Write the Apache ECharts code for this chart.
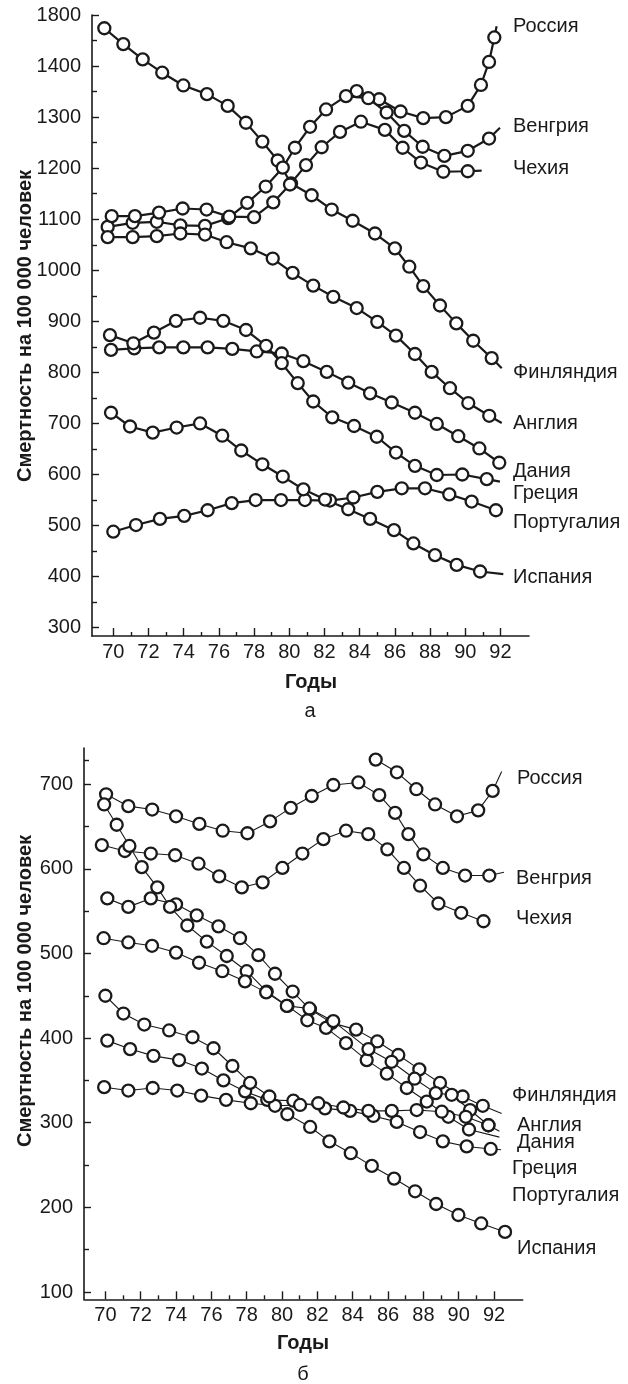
<!DOCTYPE html>
<html><head><meta charset="utf-8">
<script src="https://cdn.jsdelivr.net/npm/echarts@6/dist/echarts.min.js"></script>
<style>html,body{margin:0;padding:0;background:#fff}#c{width:628px;height:1384px}</style>
</head><body><div id="c"></div>
<script>
// ---------- tick values ----------
const xMajorTicks = [70,72,74,76,78,80,82,84,86,88,90,92];
const xMinorTicks = [71,73,75,77,79,81,83,85,87,89,91];
const yTicksA = [300,400,500,600,700,800,900,1000,1100,1200,1300,1400,1500];
const yTickTextA = ['300','400','500','600','700','800','900','1000','1100','1200','1300','1400','1800'];
const yMinorA = [350,450,550,650,750,850,950,1050,1150,1250,1350,1450];
const yTicksB = [100,200,300,400,500,600,700];
const yMinorB = [150,250,350,450,550,650,728];

// ---------- panel а ----------
const finlandA = [[69.49,1474],[70.57,1443],[71.67,1413],[72.78,1387],[73.98,1362],[75.32,1345],[76.5,1322],[77.54,1289],[78.47,1252],[79.34,1215],[80.1,1170],[81.27,1147],[82.41,1119],[83.6,1097],[84.87,1072],[86.0,1043],[86.82,1007],[87.61,969],[88.56,931],[89.49,896],[90.45,862],[91.5,828],[92.07,808,'end']];
const russiaA = [[83.83,1351],[85.11,1335],[86.32,1311],[87.61,1298],[88.9,1300],[90.14,1322],[90.89,1363],[91.35,1408],[91.65,1456],[91.78,1478,'end']];
const hungaryA = [[69.68,1085],[71.1,1093],[72.47,1095],[73.81,1088],[75.21,1087],[76.53,1102],[77.61,1132],[78.66,1164],[79.63,1201],[80.32,1240],[81.18,1281],[82.09,1315],[83.22,1341],[84.49,1337],[85.53,1309],[86.53,1273],[87.58,1242],[88.81,1224],[90.14,1234],[91.35,1258],[91.97,1279,'end']];
const czechA = [[69.91,1106],[71.23,1106],[72.6,1113],[73.94,1121],[75.3,1119],[76.59,1105],[78.0,1104],[79.09,1133],[80.04,1168],[80.95,1206],[81.84,1241],[82.88,1271],[84.07,1291],[85.43,1275],[86.44,1240],[87.48,1211],[88.75,1193],[90.14,1194],[90.93,1195,'end']];
const englandA = [[69.68,1065],[71.1,1065],[72.47,1067],[73.81,1072],[75.21,1070],[76.44,1055],[77.81,1043],[79.06,1023],[80.19,995],[81.36,970],[82.5,948],[83.83,926],[85.0,899],[86.06,872],[87.14,836],[88.09,801],[89.13,769],[90.17,740],[91.36,715],[92.07,701,'end']];
const denmarkA = [[69.87,844],[71.19,847],[72.61,849],[73.98,849],[75.36,849],[76.76,846],[78.15,841],[79.57,837],[80.8,822],[82.13,801],[83.35,780],[84.59,759],[85.82,741],[87.14,721],[88.38,699],[89.6,675],[90.8,651],[91.93,623]];
const greeceA = [[69.81,873],[71.14,857],[72.31,878],[73.56,901],[74.93,907],[76.25,901],[77.54,883],[78.68,852],[79.57,818],[80.48,779],[81.36,743],[82.44,712],[83.68,695],[84.97,674],[86.06,643],[87.14,617],[88.38,599],[89.83,600],[91.22,591],[91.97,586,'end']];
const portugalA = [[70.0,488],[71.29,501],[72.65,513],[74.03,519],[75.36,530],[76.73,544],[78.09,550],[79.53,550],[80.89,550],[82.31,549],[83.64,555],[85.0,566],[86.39,573],[87.71,573],[89.09,561],[90.36,547],[91.74,530]];
const spainA = [[69.87,721],[70.95,694],[72.24,682],[73.6,692],[74.93,700],[76.19,676],[77.27,647],[78.47,620],[79.63,596],[80.8,571],[82.03,551],[83.35,532],[84.59,513],[85.95,491],[87.05,465],[88.28,442],[89.51,423],[90.84,410],[92.16,405,'end']];

// ---------- panel б ----------
const russiaB = [[85.3,729],[86.5,714],[87.6,694],[88.66,676],[89.9,662],[91.1,669],[91.92,692],[92.43,715,'end']];
const hungaryB = [[70.04,688],[71.3,674],[72.65,670],[74.0,662],[75.32,653],[76.64,645],[78.04,642],[79.32,656],[80.49,672],[81.68,686],[82.9,699],[84.32,702],[85.5,687],[86.4,666],[87.15,641],[88.0,617],[89.1,601],[90.36,592],[91.73,592],[92.56,596,'end']];
const czechB = [[69.8,628],[71.1,621],[72.57,618],[73.95,616],[75.27,606],[76.44,591],[77.72,578],[78.9,584],[80.02,601],[81.15,618],[82.34,635],[83.62,645],[84.88,641],[85.96,623],[86.9,601],[87.81,580],[88.85,559],[90.14,548],[91.4,538]];
const finlandB = [[70.11,565],[71.3,555],[72.57,565],[74.0,558],[75.17,545],[76.4,532],[77.62,518],[78.66,498],[79.6,476],[80.6,455],[81.58,434],[82.81,418],[84.19,410],[85.39,396],[86.58,380],[87.77,363],[88.94,347],[90.22,331],[91.36,320],[92.43,311,'end']];
const englandB = [[69.93,676],[70.64,652],[71.36,627],[72.06,602],[72.94,578],[73.66,555],[74.64,533],[75.74,514],[76.87,497],[78.0,479],[79.13,455],[80.3,438],[81.43,421],[82.49,412],[83.62,394],[84.79,374],[85.93,358],[87.06,341],[88.19,325],[89.41,307],[90.58,292],[92.3,283,'end']];
const denmarkB = [[69.9,518],[71.3,513],[72.64,509],[74.0,501],[75.3,489],[76.62,479],[77.9,467],[79.1,454],[80.27,438],[81.55,435],[82.9,420],[84.89,387],[86.2,372],[87.5,352],[88.7,335],[89.6,333],[90.64,315],[91.68,297],[92.3,290,'end']];
const greeceB = [[70.11,397],[71.4,387],[72.72,379],[74.17,374],[75.46,364],[76.68,350],[77.91,337],[79.16,327],[80.64,326],[82.43,317],[83.85,314],[85.17,308],[86.49,301],[87.81,289],[89.1,278],[90.45,272],[91.81,269],[92.4,268,'end']];
const portugalB = [[69.93,342],[71.3,338],[72.68,341],[74.07,338],[75.42,332],[76.83,327],[78.23,323],[79.6,320],[81.02,321],[82.05,323],[83.47,318],[84.89,314],[86.21,314],[87.62,315],[89.04,313],[90.4,307],[91.68,297]];
const spainB = [[70.0,450],[71.02,429],[72.2,416],[73.61,409],[74.93,401],[76.12,388],[77.19,367],[78.19,347],[79.28,331],[80.3,310],[81.59,295],[82.68,278],[83.89,264],[85.08,249],[86.34,234],[87.53,219],[88.72,204],[89.98,191],[91.27,181],[92.62,171]];

const countries = ['Финляндия','Россия','Венгрия','Чехия','Англия','Дания','Греция','Португалия','Испания'];
const panelA = [finlandA,russiaA,hungaryA,czechA,englandA,denmarkA,greeceA,portugalA,spainA];
const panelB = [finlandB,russiaB,hungaryB,czechB,englandB,denmarkB,greeceB,portugalB,spainB];

const FONT = '"Liberation Sans", Arial, Helvetica, sans-serif';
const INK = '#1a1a1a';
const FS = 20;

function toData(arr){
  return arr.map(p => p[2] === 'end' ? {value:[p[0],p[1]], symbol:'none'} : {value:[p[0],p[1]]});
}
function mkSeries(arr, name, axisIdx, lw){
  return {
    type:'line', name, xAxisIndex:axisIdx, yAxisIndex:axisIdx,
    data: toData(arr), symbol:'circle', symbolSize:12, showAllSymbol:true,
    lineStyle:{color:INK, width:lw}, itemStyle:{color:'#fff', borderColor:INK, borderWidth:2.3},
    emphasis:{disabled:true}, animation:false, z:3
  };
}

const XMIN = 68.79, XMAX = 93.62;
function xAxes(grid){
  return [
    {type:'value', gridIndex:grid, position:'bottom', min:XMIN, max:XMAX, splitLine:{show:false},
     axisLine:{lineStyle:{color:INK,width:1.6}},
     axisTick:{inside:true,length:8,customValues:xMajorTicks,lineStyle:{color:INK,width:1.4}},
     axisLabel:{customValues:xMajorTicks,color:INK,fontSize:FS,fontFamily:FONT,margin:6}},
    {type:'value', gridIndex:grid, position:'bottom', min:XMIN, max:XMAX, splitLine:{show:false},
     axisLine:{show:false},
     axisTick:{inside:true,length:4,customValues:xMinorTicks,lineStyle:{color:INK,width:1.4}},
     axisLabel:{show:false}}
  ];
}
function yAxes(grid,min,max,major,minor,fmt){
  return [
    {type:'value', gridIndex:grid, position:'left', min, max, splitLine:{show:false},
     axisLine:{lineStyle:{color:INK,width:1.6}},
     axisTick:{inside:true,length:7,customValues:major,lineStyle:{color:INK,width:1.4}},
     axisLabel:{customValues:major,color:INK,fontSize:FS,fontFamily:FONT,margin:11,formatter:fmt}},
    {type:'value', gridIndex:grid, position:'left', min, max, splitLine:{show:false},
     axisLine:{show:false},
     axisTick:{inside:true,length:5,customValues:minor,lineStyle:{color:INK,width:1.4}},
     axisLabel:{show:false}}
  ];
}

const series = [];
panelA.forEach((a,i)=>series.push(mkSeries(a,countries[i]+' а',0,2.2)));
panelB.forEach((a,i)=>series.push(mkSeries(a,countries[i]+' б',2,1.1)));

function txt(x,y,text,opt){
  return {type:'text', x, y, style:Object.assign({text, fill:INK, font:FS+'px '+FONT, textVerticalAlign:'middle'}, opt||{})};
}
const labelsA = [['Россия',26],['Венгрия',126],['Чехия',168],['Финляндия',372],['Англия',423],['Дания',471],['Греция',493],['Португалия',522],['Испания',577]];
const labelsB = [['Россия',778,517],['Венгрия',878,516],['Чехия',918,516],['Финляндия',1095,512],['Англия',1125,517],['Дания',1142,517],['Греция',1168,512],['Португалия',1195,512],['Испания',1248,517]];
const graphics = [];
labelsA.forEach(l=>graphics.push(txt(513,l[1],l[0])));
labelsB.forEach(l=>graphics.push(txt(l[2],l[1],l[0])));
const yTitle = 'Смертность на 100 000 человек';
graphics.push({type:'text', x:25, y:326, rotation:Math.PI/2, style:{text:yTitle, fill:INK, font:'bold 20px '+FONT, textAlign:'center', textVerticalAlign:'middle'}});
graphics.push({type:'text', x:25, y:991, rotation:Math.PI/2, style:{text:yTitle, fill:INK, font:'bold 20px '+FONT, textAlign:'center', textVerticalAlign:'middle'}});
graphics.push(txt(311,682,'Годы',{font:'bold 20px '+FONT,textAlign:'center'}));
graphics.push(txt(310,711,'а',{textAlign:'center'}));
graphics.push(txt(303,1343,'Годы',{font:'bold 20px '+FONT,textAlign:'center'}));
graphics.push(txt(303,1374,'б',{textAlign:'center'}));

const chart = echarts.init(document.getElementById('c'), null, {renderer:'canvas'});
chart.setOption({
  backgroundColor:'#fff',
  animation:false,
  grid:[{left:92, top:15, width:437, height:621},{left:84, top:748, width:438.7, height:551.3}],
  xAxis:[...xAxes(0), ...xAxes(1)],
  yAxis:[...yAxes(0,283.7,1500,yTicksA,yMinorA,(v)=>{const i=yTicksA.indexOf(v);return i>=0?yTickTextA[i]:String(v);}),
         ...yAxes(1,91.4,742.7,yTicksB,yMinorB,(v)=>String(v))],
  series,
  graphic: graphics
});
</script></body></html>
